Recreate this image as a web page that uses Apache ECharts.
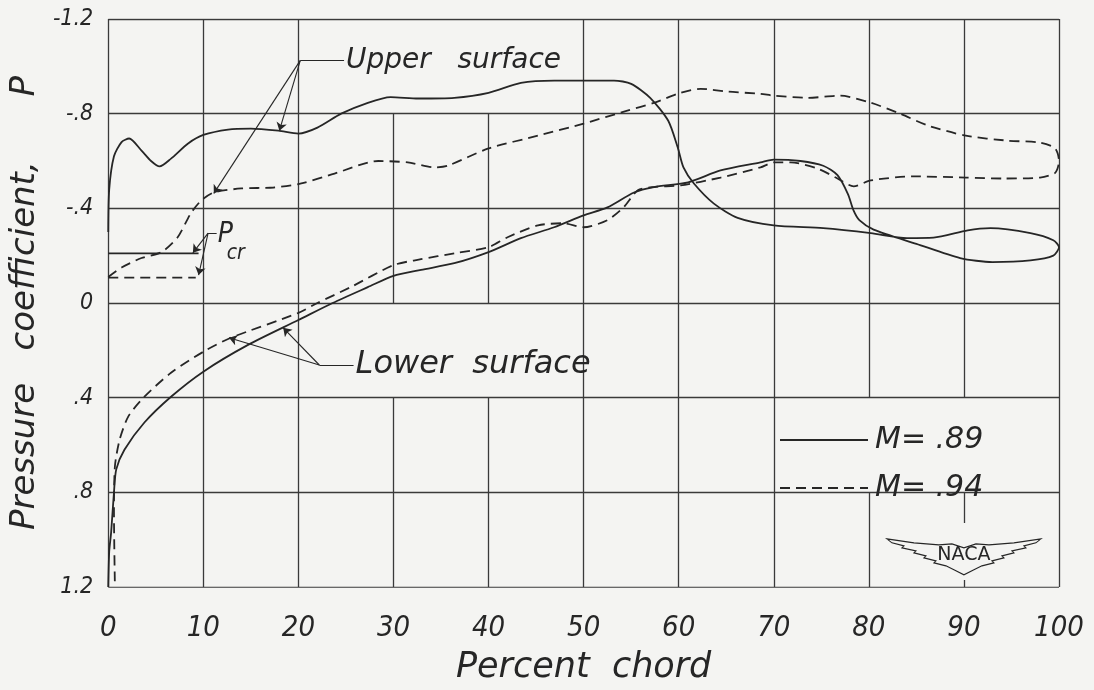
<!DOCTYPE html>
<html>
<head>
<meta charset="utf-8">
<title>Pressure distribution</title>
<script src="https://cdn.jsdelivr.net/npm/echarts@6/dist/echarts.min.js"></script>
<style>
  html, body { margin: 0; padding: 0; background: #f4f4f2; }
  #chart { width: 1094px; height: 690px; }
</style>
</head>
<body>
<div id="chart"></div>
<script>
// ---- axes -------------------------------------------------------------
const chordTicks = [0, 10, 20, 30, 40, 50, 60, 70, 80, 90, 100];
const pressureTickLabels = ['-1.2', '-.8', '-.4', '0', '.4', '.8', '1.2'];

// ---- pressure coefficient along the chord, [percent chord, P] -----------
// M = .89, upper surface (leading edge -> trailing edge)
const upper89 = [
  [0, -0.30], [0.1, -0.48], [0.6, -0.62], [1.4, -0.68], [2.2, -0.695], [3.5, -0.644],
  [4.5, -0.60], [5.4, -0.577], [6.6, -0.61], [8.4, -0.674], [10, -0.71], [12.6, -0.733],
  [15, -0.737], [17.9, -0.728], [20, -0.716], [22, -0.741], [24.5, -0.80], [27.3, -0.846],
  [29.7, -0.87], [32.6, -0.864], [36.4, -0.867], [40, -0.888], [43.4, -0.93], [46.9, -0.94],
  [53.2, -0.94], [55, -0.926], [57, -0.867], [58.9, -0.77], [59.9, -0.657], [60.5, -0.573],
  [61.6, -0.505], [63.7, -0.42], [66.2, -0.36], [70, -0.328], [75.2, -0.316], [80.2, -0.295],
  [84, -0.274], [86.8, -0.276], [90.4, -0.307], [92.8, -0.316], [97, -0.295], [99.4, -0.265],
  [100, -0.236]
];
// M = .89, lower surface (leading edge -> trailing edge)
const lower89 = [
  [0, 1.2], [0.1, 1.05], [0.3, 0.97], [0.6, 0.80], [0.84, 0.703], [1.7, 0.62], [3.8, 0.505],
  [6.6, 0.396], [10, 0.29], [14.7, 0.177], [20, 0.072], [23.6, 0], [27.3, -0.067], [30, -0.115],
  [32.9, -0.14], [36.4, -0.168], [40, -0.215], [43.4, -0.274], [46.9, -0.32], [50, -0.37],
  [52.5, -0.404], [55.3, -0.467], [57.4, -0.49], [61, -0.51], [64.4, -0.56], [68.6, -0.594],
  [70, -0.606], [72.8, -0.60], [75.2, -0.58], [76.7, -0.54], [77.8, -0.46], [78.4, -0.39],
  [79, -0.35], [80.5, -0.31], [85, -0.25], [89.6, -0.19], [93, -0.173], [97, -0.18],
  [99.4, -0.20], [100, -0.236]
];
// M = .94, upper surface
const upper94 = [
  [0, -0.11], [1.4, -0.15], [3.5, -0.19], [5.6, -0.215], [7.3, -0.278], [8.7, -0.38],
  [9.8, -0.434], [11.1, -0.467], [14, -0.484], [17.4, -0.488], [20.3, -0.505], [23.8, -0.547],
  [28.4, -0.60], [31.5, -0.594], [34.3, -0.573], [35.7, -0.58], [40, -0.653], [45.2, -0.707],
  [50, -0.758], [54.6, -0.813], [57.4, -0.846], [60.2, -0.888], [62.3, -0.905], [65.2, -0.893],
  [68.6, -0.884], [70, -0.876], [73.6, -0.867], [77, -0.876], [80.2, -0.846], [83.3, -0.80],
  [86.2, -0.75], [90.2, -0.707], [94.6, -0.686], [98, -0.678], [99.6, -0.653], [100, -0.60]
];
// M = .94, lower surface
const lower94 = [
  [0.7, 1.2], [0.6, 0.884], [0.7, 0.69], [1.2, 0.577], [2.1, 0.48], [3.7, 0.40], [6.6, 0.295],
  [10, 0.206], [12.9, 0.147], [20, 0.042], [22, 0], [25.5, -0.067], [30, -0.16], [32.9, -0.185],
  [36.4, -0.21], [40, -0.236], [42, -0.278], [45.2, -0.328], [47.9, -0.337], [50, -0.32],
  [52.5, -0.35], [54.2, -0.404], [55.7, -0.476], [57.4, -0.49], [60.2, -0.497], [64.4, -0.53],
  [68.6, -0.573], [70, -0.594], [71.8, -0.594], [74.6, -0.568], [76.7, -0.526], [78.4, -0.493],
  [80.2, -0.518], [84.7, -0.535], [90.2, -0.53], [94.2, -0.526], [98, -0.53], [99.6, -0.55],
  [100, -0.60]
];

// critical pressure coefficient for each Mach number, and chord extent of its mark
const pcrValues = [-0.21, -0.107];
const pcrExtent = [9.5, 9.2];

const machNames = ['M= .89', 'M= .94'];

// ruling of the graph paper: [x, P from, P to] and [P, x from, x to]
const rulingV = [
  [0, -1.2, 1.2], [10, -1.2, 1.2], [20, -1.2, 1.2], [30, -0.8, 0], [30, 0.4, 1.2],
  [40, -0.8, 0], [40, 0.4, 1.2], [50, -1.2, 1.2], [60, -1.2, 1.2], [70, -1.2, 1.2],
  [80, -1.2, 0.4], [80, 0.8, 1.2], [90, -1.2, 0.4], [90, 0.8, 0.93], [90, 1.17, 1.2],
  [100, -1.2, 1.2]
];
const rulingH = [
  [-1.2, 0, 100], [-0.8, 0, 100], [-0.4, 0, 100], [0, 0, 100],
  [0.4, 0, 100], [0.8, 0, 100], [1.2, 0, 100]
];

// callouts: elbow point, end of the short bar toward the text, arrow targets
const upperCallout = { elbow: [20.2, -1.025], bar: [24.8, -1.025], targets: [[18.0, -0.728], [11.1, -0.463]] };
const lowerCallout = { elbow: [22.2, 0.262], bar: [25.8, 0.262], targets: [[18.4, 0.105], [12.7, 0.147]] };
const pcrCallout   = { elbow: [10.5, -0.295], bar: [11.4, -0.295], targets: [[8.9, -0.212], [9.5, -0.118]] };

// ---- styling -------------------------------------------------------------
const INK = '#262626';
const RULE = '#3a3a3a';
const PAPER = '#f4f4f2';
const FONT = '"DejaVu Sans Condensed", "DejaVu Sans", sans-serif';
const WIDE = '"DejaVu Sans", sans-serif';
const DASH = [10, 6];

const callouts = [upperCallout, lowerCallout, pcrCallout];
const arrowData = [];
const barData = [];
callouts.forEach(c => {
  barData.push({ coords: [c.elbow, c.bar] });
  c.targets.forEach(t => arrowData.push({ coords: [c.elbow, t] }));
});

const rulingData = rulingV.map(([x, a, b]) => ({ coords: [[x, a], [x, b]] }))
  .concat(rulingH.map(([p, a, b]) => ({ coords: [[a, p], [b, p]] })));

// closed contour: upper surface out to the trailing edge, lower surface back
const contour = (up, low) => up.concat(low.slice().reverse());

const option = {
  backgroundColor: PAPER,
  animation: false,
  grid: { left: 107, right: 35, top: 19, bottom: 102 },
  xAxis: {
    type: 'value', min: 0, max: 100, interval: 10,
    axisLine: { show: false }, axisTick: { show: false }, splitLine: { show: false },
    axisLabel: {
      margin: 27, color: INK, fontSize: 29, fontStyle: 'italic', fontFamily: FONT,
      formatter: v => String(chordTicks[Math.round(v / 10)])
    },
    name: 'Percent  chord', nameLocation: 'middle', nameGap: 63,
    nameTextStyle: { color: INK, fontSize: 35, fontStyle: 'italic', fontFamily: WIDE }
  },
  yAxis: {
    type: 'value', min: -1.2, max: 1.2, interval: 0.4, inverse: true,
    axisLine: { show: false }, axisTick: { show: false }, splitLine: { show: false },
    axisLabel: {
      margin: 15, color: INK, fontSize: 23, fontStyle: 'italic', fontFamily: FONT,
      formatter: v => pressureTickLabels[Math.round((v + 1.2) / 0.4)]
    },
    name: 'Pressure   coefficient,      P', nameLocation: 'middle', nameGap: 56, nameRotate: 90,
    nameTextStyle: { color: INK, fontSize: 34, fontStyle: 'italic', fontFamily: WIDE }
  },
  legend: {
    data: machNames, orient: 'vertical', left: 774, top: 420, itemGap: 18,
    itemWidth: 88, itemHeight: 14, selectedMode: false,
    itemStyle: { opacity: 0 },
    textStyle: { color: INK, fontSize: 30, fontStyle: 'italic', fontFamily: WIDE, padding: [0, 0, 0, 2] }
  },
  series: [
    {
      name: 'ruling', type: 'lines', coordinateSystem: 'cartesian2d', silent: true, z: 1,
      lineStyle: { color: RULE, width: 1.3, opacity: 1 }, symbol: 'none',
      data: rulingData
    },
    {
      name: machNames[0], type: 'line', data: contour(upper89, lower89),
      symbol: 'none', smooth: 0.25, z: 3, silent: true,
      lineStyle: { color: INK, width: 1.8 }, itemStyle: { color: INK }
    },
    {
      name: machNames[1], type: 'line', data: contour(upper94, lower94),
      symbol: 'none', smooth: 0.25, z: 3, silent: true,
      lineStyle: { color: INK, width: 1.8, type: DASH }, itemStyle: { color: INK }
    },
    {
      name: 'pcr .89', type: 'line', symbol: 'none', z: 3, silent: true,
      data: [[0, pcrValues[0]], [pcrExtent[0], pcrValues[0]]],
      lineStyle: { color: INK, width: 1.8 }
    },
    {
      name: 'pcr .94', type: 'line', symbol: 'none', z: 3, silent: true,
      data: [[0, pcrValues[1]], [pcrExtent[1], pcrValues[1]]],
      lineStyle: { color: INK, width: 1.8, type: DASH }
    },
    {
      name: 'callout bars', type: 'lines', coordinateSystem: 'cartesian2d', silent: true, z: 4,
      symbol: 'none', lineStyle: { color: INK, width: 1.2, opacity: 1 }, data: barData
    },
    {
      name: 'callout arrows', type: 'lines', coordinateSystem: 'cartesian2d', silent: true, z: 4,
      symbol: ['none', 'arrow'], symbolSize: 8,
      lineStyle: { color: INK, width: 1.1, opacity: 1 }, data: arrowData
    }
  ]
};

const chart = echarts.init(document.getElementById('chart'));
chart.setOption(option);

// text of the callouts and the emblem, placed from data coordinates
const px = pt => chart.convertToPixel({ gridIndex: 0 }, pt);
const labelStyle = (size, family) => ({ fill: INK, fontSize: size, fontStyle: 'italic', fontFamily: family || WIDE });

const upperAt = px(upperCallout.bar);
const lowerAt = px(lowerCallout.bar);
const pcrAt = px(pcrCallout.bar);
const logoAt = px([90, 1.06]);

const wing = [
  [-77, -15], [-50, -11], [-25, -9], [-12, -10], [0, -6], [12, -10], [25, -9], [50, -11], [77, -15],
  [72, -11], [60, -8], [62, -6], [48, -3], [50, -1], [38, 2], [40, 4], [28, 7], [30, 9],
  [18, 12], [10, 16], [0, 21], [-10, 16], [-18, 12], [-30, 9], [-28, 7], [-40, 4], [-38, 2],
  [-50, -1], [-48, -3], [-62, -6], [-60, -8], [-72, -11]
];

chart.setOption({
  graphic: [
    { type: 'text', x: upperAt[0] + 2, y: upperAt[1], style: Object.assign(labelStyle(28), { text: 'Upper   surface', verticalAlign: 'middle' }), z: 10 },
    { type: 'text', x: lowerAt[0] + 2, y: lowerAt[1], style: Object.assign(labelStyle(32), { text: 'Lower  surface', verticalAlign: 'middle' }), z: 10 },
    { type: 'text', x: pcrAt[0] + 1, y: pcrAt[1] + 2, style: Object.assign(labelStyle(28, FONT), { text: 'P', verticalAlign: 'middle' }), z: 10 },
    { type: 'text', x: pcrAt[0] + 10, y: pcrAt[1] + 20, style: Object.assign(labelStyle(21, FONT), { text: 'cr', verticalAlign: 'middle' }), z: 10 },
    {
      type: 'group', x: logoAt[0], y: logoAt[1], z: 10,
      children: [
        { type: 'polygon', shape: { points: wing }, style: { fill: PAPER, stroke: INK, lineWidth: 1.1 } },
        { type: 'text', x: 0, y: 1, style: { text: 'NACA', fill: INK, fontSize: 19, fontFamily: WIDE, align: 'center', verticalAlign: 'middle' } }
      ]
    }
  ]
});
</script>
</body>
</html>
